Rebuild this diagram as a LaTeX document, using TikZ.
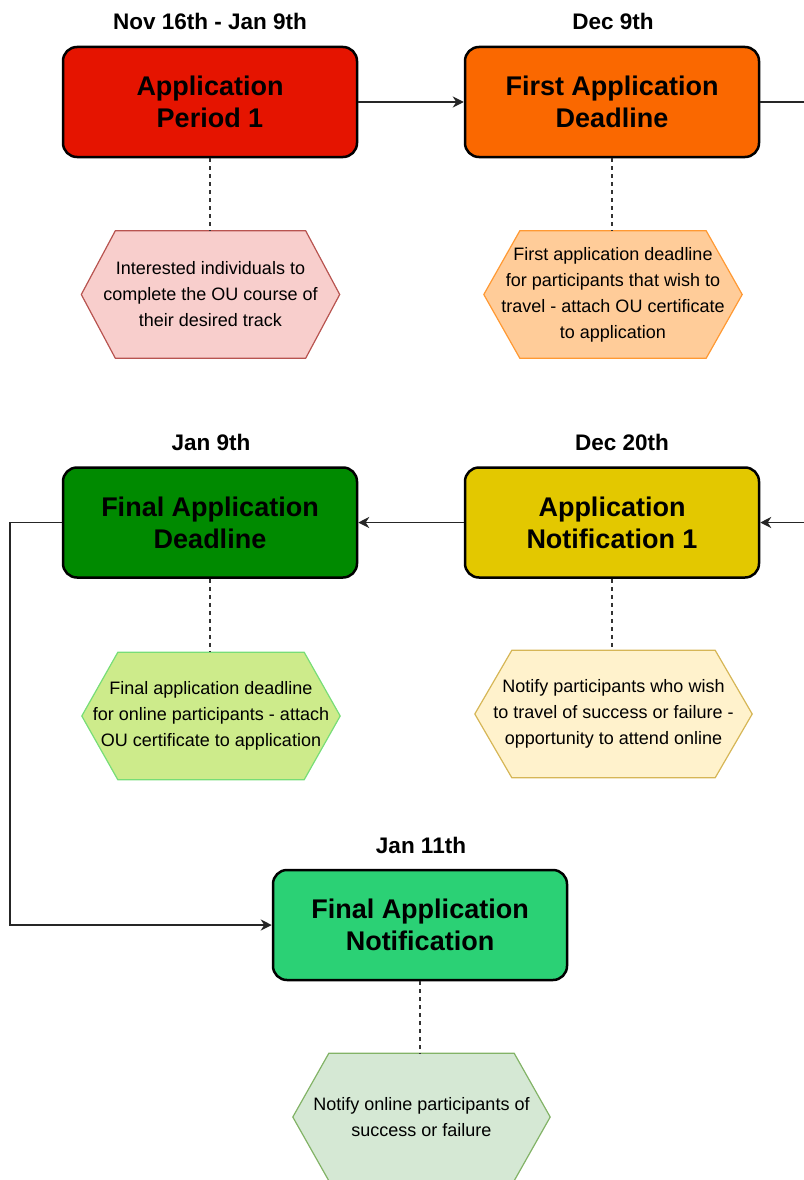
\documentclass[tikz,border=0pt]{standalone}
\usepackage{fontspec}
\setmainfont{Liberation Sans}
\usetikzlibrary{arrows.meta,backgrounds}
\definecolor{cRed}{HTML}{E51400}
\definecolor{cOrange}{HTML}{FA6800}
\definecolor{cGreenD}{HTML}{008A00}
\definecolor{cYellow}{HTML}{E3C800}
\definecolor{cGreenL}{HTML}{2BD175}
\definecolor{h1f}{HTML}{F8CECC}\definecolor{h1d}{HTML}{B85450}
\definecolor{h2f}{HTML}{FFCC99}\definecolor{h2d}{HTML}{FF9933}
\definecolor{h3f}{HTML}{CDEB8B}\definecolor{h3d}{HTML}{77DD77}
\definecolor{h4f}{HTML}{FFF2CC}\definecolor{h4d}{HTML}{D6B656}
\definecolor{h5f}{HTML}{D5E8D4}\definecolor{h5d}{HTML}{82B366}
\newcommand\hexpath[3]{\path[#3] ([xshift=#2]#1.north west) -- ([xshift=-#2]#1.north east) -- (#1.east) -- ([xshift=-#2]#1.south east) -- ([xshift=#2]#1.south west) -- (#1.west) -- cycle;}
\begin{document}
\begin{tikzpicture}[x=1pt,y=-1pt,
  box/.style={draw=black, line width=2.5pt, rounded corners=14pt, minimum width=294pt, minimum height=110pt, align=center, inner sep=0pt, font=\bfseries\fontsize{27}{32}\selectfont},
  datelabel/.style={font=\bfseries\fontsize{22.5}{27}\selectfont, inner sep=0pt},
  hexbox/.style={minimum height=127pt, inner sep=0pt, align=center, font=\fontsize{18}{26}\selectfont},
  hexline/.style={line width=1.2pt},
  dashline/.style={draw=black!80, line width=1.5pt, dash pattern=on 4pt off 4pt},
  plainline/.style={draw=black!85, line width=1.5pt},
  conn/.style={plainline, -{Stealth[length=11pt,width=11pt,inset=3.5pt]}}
]
\useasboundingbox (0,0) rectangle (803,1180);

% boxes
\node[box, fill=cRed] (b1) at (210,102) {Application\\Period 1};
\node[box, fill=cOrange] (b2) at (612,102) {First Application\\Deadline};
\node[box, fill=cGreenD] (b3) at (210,522.5) {Final Application\\Deadline};
\node[box, fill=cYellow] (b4) at (612,522.5) {Application\\Notification 1};
\node[box, fill=cGreenL] (b5) at (420,925) {Final Application\\Notification};

% dates
\node[datelabel] (d1) at (210,21) {Nov 16th - Jan 9th};
\node[datelabel] (d2) at (613,21) {Dec 9th};
\node[datelabel] (d3) at (211,442) {Jan 9th};
\node[datelabel] (d4) at (622,442) {Dec 20th};
\node[datelabel] (d5) at (421,845) {Jan 11th};

% hexagon texts
\node[hexbox, minimum width=258pt] (h1) at (210.5,294.5) {Interested individuals to\\complete the OU course of\\their desired track};
\node[hexbox, minimum width=258pt] (h2) at (613,294.5) {First application deadline\\for participants that wish to\\travel - attach OU certificate\\to application};
\node[hexbox, minimum width=258pt] (h3) at (211,716) {Final application deadline\\for online participants - attach\\OU certificate to application};
\node[hexbox, minimum width=277pt] (h4) at (613.5,714) {Notify participants who wish\\to travel of success or failure -\\opportunity to attend online};
\node[hexbox, minimum width=257pt] (h5) at (421.5,1117) {Notify online participants of\\success or failure};

\begin{scope}[on background layer]
\hexpath{h1}{34}{hexline, fill=h1f, draw=h1d}
\hexpath{h2}{36}{hexline, fill=h2f, draw=h2d}
\hexpath{h3}{36}{hexline, fill=h3f, draw=h3d}
\hexpath{h4}{37}{hexline, fill=h4f, draw=h4d}
\hexpath{h5}{36}{hexline, fill=h5f, draw=h5d}
\end{scope}

% dashed connectors
\draw[dashline] (b1.south) -- (b1.south |- h1.north);
\draw[dashline] (b2.south) -- (b2.south |- h2.north);
\draw[dashline] (b3.south) -- (b3.south |- h3.north);
\draw[dashline] (b4.south) -- (b4.south |- h4.north);
\draw[dashline] (b5.south) -- (b5.south |- h5.north);

% flow connectors
\coordinate (r1) at (830,102);
\coordinate (r2) at (830,522.5);
\coordinate (lft) at (10,0);
\draw[conn] (b1.east) -- (b2.west);
\draw[plainline] (b2.east) -- (r1);
\draw[conn] (r2) -- (b4.east);
\draw[conn] (b4.west) -- (b3.east);
\draw[conn] (b3.west) -- (b3.west -| lft) |- (b5.west);
\end{tikzpicture}
\end{document}
